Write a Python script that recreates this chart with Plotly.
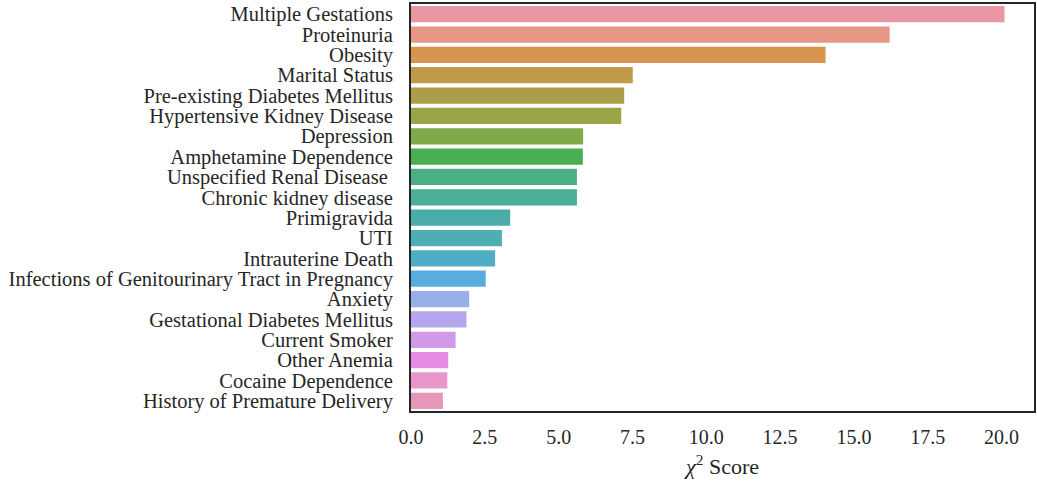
import plotly.graph_objects as go

# ---- data ----
features = [
    "Multiple Gestations", "Proteinuria", "Obesity", "Marital Status",
    "Pre-existing Diabetes Mellitus", "Hypertensive Kidney Disease", "Depression",
    "Amphetamine Dependence", "Unspecified Renal Disease ", "Chronic kidney disease",
    "Primigravida", "UTI", "Intrauterine Death",
    "Infections of Genitourinary Tract in Pregnancy", "Anxiety",
    "Gestational Diabetes Mellitus", "Current Smoker", "Other Anemia",
    "Cocaine Dependence", "History of Premature Delivery",
]
chi2_scores = [20.10, 16.21, 14.04, 7.51, 7.22, 7.12, 5.83, 5.82, 5.62, 5.62,
               3.36, 3.08, 2.85, 2.53, 1.97, 1.88, 1.51, 1.26, 1.23, 1.08]
x_ticks = [0.0, 2.5, 5.0, 7.5, 10.0, 12.5, 15.0, 17.5, 20.0]
x_tick_labels = ["0.0", "2.5", "5.0", "7.5", "10.0", "12.5", "15.0", "17.5", "20.0"]

# ---- style ----
bar_colors = [
    "#EA96A3", "#E79885", "#D6944F", "#C09A4B", "#AC9E48", "#9BA548", "#80AA48",
    "#4AAF53", "#4AAF84", "#4BAE99", "#4BABA7", "#4EAEB4", "#50ADC6", "#58ADDE",
    "#97B0E8", "#B4A7EE", "#D09AE8", "#E68AE6", "#E896CC", "#E697B8",
]

fig = go.Figure(go.Bar(
    x=chi2_scores, y=features, orientation="h",
    marker=dict(color=bar_colors, line=dict(width=0)),
    width=0.8,
))

font_family = "Liberation Serif, Times New Roman, serif"
title_text = "<i>χ</i><sup>2</sup> Score"
fig.update_layout(
    width=1037, height=486,
    margin=dict(l=411, r=1, t=4, b=75),
    plot_bgcolor="white", paper_bgcolor="white",
    showlegend=False,
    font=dict(family=font_family, size=20, color="#262626"),
    xaxis=dict(
        range=[0, 21.1], tickmode="array", tickvals=x_ticks, ticktext=x_tick_labels,
        showgrid=False, zeroline=False, showline=True, mirror=True,
        linecolor="#262626", linewidth=2, ticks="", ticklabelstandoff=7,
        title=dict(text=title_text, font=dict(size=22, family=font_family), standoff=12),
    ),
    yaxis=dict(
        range=[19.5, -0.5], type="category",
        tickmode="array", tickvals=features, ticktext=features,
        tickfont=dict(size=20.5),
        showgrid=False, zeroline=False, showline=True, mirror=True,
        linecolor="#262626", linewidth=2, ticks="", ticklabelstandoff=12,
    ),
)

fig.write_html("out.html")
